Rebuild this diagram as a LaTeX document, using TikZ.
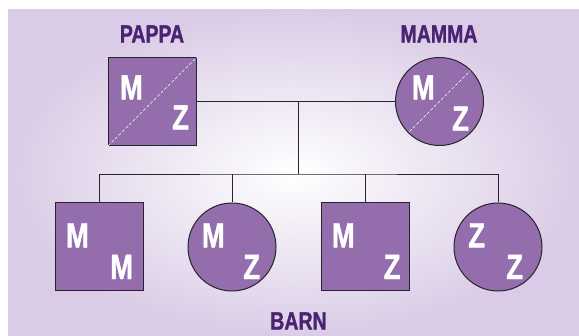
\documentclass[tikz,border=0pt]{standalone}
\usepackage{fontspec}
\newfontfamily\cond[FakeStretch=0.78, BoldFeatures={FakeBold=1.2}]{Liberation Sans}
\definecolor{bgc}{RGB}{218,204,230}
\definecolor{fillc}{RGB}{148,110,172}
\definecolor{titc}{RGB}{75,35,115}
\definecolor{linec}{RGB}{40,35,45}
\begin{document}
\begin{tikzpicture}[x=1pt,y=-1pt,
  person/.style={draw=linec, line width=1pt, fill=fillc, inner sep=0pt, minimum size=88pt},
  male/.style={person, rectangle},
  female/.style={person, circle},
  letter/.style={text=white, font=\cond\bfseries\fontsize{35}{35}\selectfont, inner sep=0pt, anchor=center},
  title/.style={text=titc, font=\cond\bfseries\fontsize{25}{25}\selectfont, inner sep=0pt, anchor=center},
  conn/.style={draw=linec, line width=0.8pt},
  split/.style={draw=white, line width=0.7pt, dash pattern=on 3pt off 2pt}]
\useasboundingbox (0,0) rectangle (579,336);
\shade[inner color=white, outer color=bgc] (8,10) rectangle (579,336);

\node[title] (tpappa) at (152,34) {PAPPA};
\node[title] (tmamma) at (439,34) {MAMMA};
\node[title] (tbarn) at (298.5,321) {BARN};

\node[male] (pappa) at (152.5,101.5) {};
\node[female] (mamma) at (439.5,101.5) {};
\node[male] (c1) at (99,247) {};
\node[female] (c2) at (232,247) {};
\node[male] (c3) at (365,247) {};
\node[female] (c4) at (498,247) {};

\draw[split] (pappa.south west) -- (pappa.north east);
\draw[split, shorten <=2pt, shorten >=1pt] (mamma.225) -- (mamma.45);

\coordinate (mid) at (298,101.5);
\coordinate (bus) at (298,174);
\draw[conn] (pappa.east) -- (mamma.west);
\draw[conn] (mid) -- (bus);
\draw[conn] (c1.north) |- (bus) -| (c4.north);
\draw[conn] (c2.north) -- (c2.north |- bus);
\draw[conn] (c3.north) -- (c3.north |- bus);

\node[letter] (pm) at (131.5,87.5) {M};
\node[letter] (pz) at (180.5,117.5) {Z};
\node[letter] (mm) at (423.3,87.5) {M};
\node[letter] (mz) at (460.5,118.7) {Z};
\node[letter] (c1a) at (77.5,235.3) {M};
\node[letter] (c1b) at (121.7,267) {M};
\node[letter] (c2a) at (213.3,235.3) {M};
\node[letter] (c2b) at (251.7,267) {Z};
\node[letter] (c3a) at (343.3,235.3) {M};
\node[letter] (c3b) at (392.2,267) {Z};
\node[letter] (c4a) at (476.7,235.3) {Z};
\node[letter] (c4b) at (514.7,267) {Z};
\end{tikzpicture}
\end{document}
